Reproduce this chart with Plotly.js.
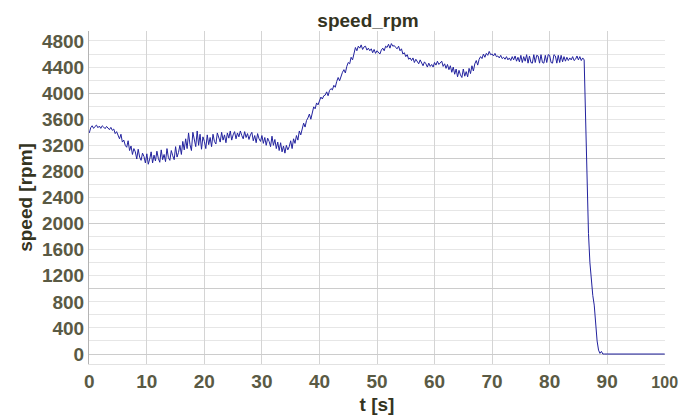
<!DOCTYPE html>
<html>
<head>
<meta charset="utf-8">
<script src="https://cdn.plot.ly/plotly-3.0.1.min.js"></script>
<style>html,body{margin:0;padding:0;background:#fff;}#chart{width:679px;height:420px;}</style>
</head>
<body>
<div id="chart"></div>
<script>
// Sampling: starts at t = 0 s, one sample every 0.25 s (used as x0 / dx by Plotly)
const tStart = 0;
const tStep = 0.25;
// speed_rpm samples (4 per second)
const speedRpm = [
  3390, 3470, 3500, 3460,  3490, 3510, 3470, 3495,  3460, 3500, 3480, 3455,  3490, 3470, 3440, 3475,
  3430, 3450, 3380, 3410,  3360, 3300, 3370, 3250,  3280, 3200, 3170, 3270,  3120, 3190, 3060, 3150,
  3100, 2990, 3140, 3020,  2970, 3080, 3030, 2930,  3070, 2910, 2990, 3100,  2930, 3050, 2960, 3110,
  3000, 2940, 3130, 2980,  3060, 2950, 3150, 3010,  2970, 3120, 3040, 2980,  3180, 3020, 3090, 3200,
  3060, 3260, 3130, 3300,  3150, 3390, 3210, 3120,  3400, 3280, 3180, 3420,  3200, 3370, 3140, 3330,
  3260, 3150, 3360, 3210,  3320, 3180, 3370, 3260,  3220, 3390, 3300, 3250,  3400, 3280, 3360, 3240,
  3390, 3310, 3420, 3280,  3360, 3410, 3300, 3390,  3330, 3420, 3350, 3300,  3410, 3320, 3380, 3290,
  3360, 3400, 3270, 3350,  3240, 3380, 3300, 3260,  3350, 3230, 3320, 3200,  3310, 3260, 3180, 3340,
  3200, 3290, 3150, 3250,  3120, 3240, 3100, 3190,  3080, 3200, 3130, 3180,  3270, 3150, 3300, 3230,
  3350, 3280, 3420, 3360,  3450, 3540, 3480, 3580,  3620, 3680, 3600, 3710,  3790, 3760, 3850, 3820,
  3880, 3940, 3910, 3960,  3970, 4020, 3960, 4040,  4070, 4050, 4120, 4090,  4180, 4240, 4190, 4270,
  4320, 4360, 4310, 4410,  4470, 4450, 4550, 4510,  4620, 4700, 4650, 4720,  4690, 4740, 4670, 4710,
  4720, 4660, 4690, 4650,  4680, 4620, 4670, 4610,  4650, 4620, 4600, 4660,  4690, 4650, 4720, 4700,
  4750, 4690, 4760, 4720,  4730, 4700, 4680, 4720,  4650, 4680, 4600, 4620,  4560, 4590, 4520, 4540,
  4500, 4540, 4470, 4520,  4490, 4450, 4510, 4460,  4420, 4480, 4450, 4400,  4460, 4410, 4440, 4400,
  4470, 4430, 4490, 4440,  4460, 4490, 4410, 4450,  4380, 4440, 4360, 4420,  4320, 4400, 4290, 4370,
  4250, 4350, 4280, 4240,  4370, 4260, 4330, 4250,  4380, 4300, 4420, 4340,  4450, 4500, 4430, 4520,
  4560, 4530, 4600, 4550,  4610, 4580, 4640, 4590,  4600, 4570, 4610, 4560,  4570, 4540, 4580, 4530,
  4550, 4520, 4560, 4510,  4540, 4500, 4560, 4510,  4570, 4490, 4550, 4480,  4580, 4470, 4560, 4490,
  4590, 4460, 4570, 4470,  4460, 4590, 4470, 4580,  4570, 4460, 4590, 4470,  4460, 4580, 4470, 4590,
  4580, 4470, 4460, 4590,  4570, 4460, 4580, 4470,  4580, 4480, 4560, 4490,  4550, 4500, 4540, 4510,
  4560, 4500, 4520, 4570,  4510, 4560, 4500, 4540,  4510, 3500, 2500, 1850,  1400, 1100, 900, 750,
  450, 200, 60, 10,  40, 0, 0, 0,
  0, 0, 0, 0,  0, 0, 0, 0,  0, 0, 0, 0,  0, 0, 0, 0,  0, 0, 0, 0,
  0, 0, 0, 0,  0, 0, 0, 0,  0, 0, 0, 0,  0, 0, 0, 0,  0, 0, 0, 0,
  0
];
const xTicks = [0, 10, 20, 30, 40, 50, 60, 70, 80, 90, 100];
const xTickText = ['0', '10', '20', '30', '40', '50', '60', '70', '80', '90', '<span style="font-size:16px">100</span>'];
const yTicks = [0, 400, 800, 1200, 1600, 2000, 2400, 2800, 3200, 3600, 4000, 4400, 4800];
const yRange = [-153, 4953];
const xRange = [-0.05, 100.05];

const tickFont = {family: 'Liberation Sans, Arial, sans-serif', size: 19, color: '#5a5a44', weight: 'bold'};
const titleFont = {family: 'Liberation Sans, Arial, sans-serif', size: 19, color: '#34341f', weight: 'bold'};

const data = [{
  type: 'scatter', mode: 'lines',
  x0: tStart, dx: tStep, y: speedRpm,
  line: {color: '#22229e', width: 1},
  hoverinfo: 'none'
}, {
  type: 'scatter', mode: 'lines', x: [], y: [], yaxis: 'y2', showlegend: false, hoverinfo: 'none'
}];

const layout = {
  width: 679, height: 420,
  margin: {l: 89, r: 14, t: 31, b: 56},
  paper_bgcolor: '#ffffff', plot_bgcolor: '#ffffff',
  showlegend: false,
  title: {text: '<b>speed_rpm</b>', font: titleFont, x: 0.542, xref: 'container', xanchor: 'center', y: 0.952, yref: 'container', yanchor: 'middle'},
  xaxis: {
    range: xRange, tickvals: xTicks, ticktext: xTickText,
    showgrid: true, gridcolor: '#d4d4d4', gridwidth: 1,
    zeroline: false, showline: true, linecolor: '#e2e2e2', linewidth: 1,
    ticks: '', tickfont: tickFont, ticklabeloverflow: 'allow',
    title: {text: '<b>t [s]</b>', font: titleFont, standoff: 6}
  },
  yaxis: {
    range: yRange, tickvals: yTicks, ticktext: yTicks.map(String),
    showgrid: false,
    minor: {dtick: 200, tick0: 0, showgrid: true, gridcolor: '#e6e6e6', gridwidth: 1, ticks: ''},
    zeroline: false, showline: true, linecolor: '#b4b4b4', linewidth: 1,
    ticks: '', tickfont: tickFont,
    title: {text: '<b>speed [rpm]</b>', font: titleFont, standoff: 4}
  },
  yaxis2: {
    range: yRange, overlaying: 'y', side: 'left', dtick: 1000, tick0: 0,
    showgrid: true, gridcolor: '#cccccc', gridwidth: 1,
    showticklabels: false, ticks: '', zeroline: false, showline: false
  }
};

Plotly.newPlot('chart', data, layout, {displayModeBar: false, staticPlot: true});
</script>
</body>
</html>
